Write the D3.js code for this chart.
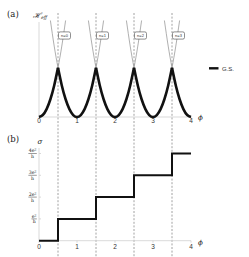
<!DOCTYPE html>
<html><head><meta charset="utf-8">
<script src="https://cdn.jsdelivr.net/npm/d3@7"></script>
<style>html,body{margin:0;padding:0;background:#fff;}svg{display:block;}</style>
</head><body>
<svg id="c" width="249" height="257"></svg>
<script>
// ---- data ----
const xTicks = [0, 1, 2, 3, 4];
const bandMinima = [0, 1, 2, 3, 4];           // parabola minima (n)
const bandLabels = ["n=0", "n=1", "n=2", "n=3"];
const degeneracyPhi = [0.5, 1.5, 2.5, 3.5];   // crossings / dashed lines
const dPhi   = [0, 0.1, 0.2, 0.3, 0.4, 0.5, 0.6, 0.7];        // offset from minimum
const energy = [0, 0.01, 0.04, 0.09, 0.16, 0.25, 0.36, 0.49]; // read energy at offset
const stepPhi   = [0, 0.5, 1.5, 2.5, 3.5, 4];
const stepSigma = [0, 1, 2, 3, 4];
const sigmaTickValues = [1, 2, 3, 4];
const sigmaTickNum = ["e²", "2e²", "3e²", "4e²"];
const sigmaTickDen = "h";

// ---- layout ----
const svg = d3.select("#c");
const x = d3.scaleLinear().domain([0, 4]).range([39, 191]);
const yTop = d3.scaleLinear().domain([0, 0.5]).range([117, 18.5]);
const yBot = d3.scaleLinear().domain([0, 4]).range([240.7, 153.5]);
const axisCol = "#cfcfcf", textCol = "#333";

// dashed lines
svg.append("g").selectAll("line").data(degeneracyPhi).join("line")
  .attr("x1", d => x(d)).attr("x2", d => x(d)).attr("y1", 13).attr("y2", 257)
  .attr("stroke", "#8a8a8a").attr("stroke-width", 0.8).attr("stroke-dasharray", "2,1.6");

// ---- panel (a) ----
function branchPoints(n, maxOff) {
  const pts = [];
  const offs = [];
  dPhi.forEach((d, i) => { if (d <= maxOff + 1e-9) offs.push([d, energy[i]]); });
  offs.slice().reverse().forEach(([d, e]) => { if (d > 0) pts.push([n - d, e]); });
  offs.forEach(([d, e]) => pts.push([n + d, e]));
  return pts.filter(p => p[0] >= -1e-9 && p[0] <= 4 + 1e-9);
}
const line = d3.line().x(d => x(d[0])).y(d => yTop(d[1])).curve(d3.curveNatural);

// axes
svg.append("line").attr("x1", x(0)).attr("x2", x(0)).attr("y1", 22).attr("y2", yTop(0))
  .attr("stroke", axisCol).attr("stroke-width", 0.8);
svg.append("line").attr("x1", x(0)).attr("x2", x(4)).attr("y1", yTop(0)).attr("y2", yTop(0))
  .attr("stroke", axisCol).attr("stroke-width", 0.8);
svg.append("g").selectAll("line").data(xTicks).join("line")
  .attr("x1", d => x(d)).attr("x2", d => x(d)).attr("y1", yTop(0)).attr("y2", yTop(0) + 2)
  .attr("stroke", axisCol).attr("stroke-width", 0.8);
svg.append("g").selectAll("text").data(xTicks).join("text")
  .attr("x", d => x(d)).attr("y", 123).attr("text-anchor", "middle")
  .attr("font-family", "Liberation Sans, Arial, sans-serif").attr("font-size", 6.5)
  .attr("fill", textCol).text(d => d);

// thin gray parabolas
bandMinima.forEach(n => {
  svg.append("path").attr("d", line(branchPoints(n, 0.7)))
    .attr("fill", "none").attr("stroke", "#8c8c8c").attr("stroke-width", 0.7);
});
// ground state
bandMinima.forEach(n => {
  svg.append("path").attr("d", line(branchPoints(n, 0.5)))
    .attr("fill", "none").attr("stroke", "#111").attr("stroke-width", 2.6)
    .attr("stroke-linecap", "butt");
});

// n labels
const lab = svg.append("g").selectAll("g").data(bandLabels).join("g")
  .attr("transform", (d, i) => `translate(${x(degeneracyPhi[i]) + 6.5},${35.5})`);
lab.append("rect").attr("x", -6).attr("y", -3.6).attr("width", 12).attr("height", 7.2)
  .attr("rx", 1.6).attr("fill", "#fff").attr("stroke", "#444").attr("stroke-width", 0.6);
lab.append("text").attr("text-anchor", "middle").attr("y", 1.5)
  .attr("font-family", "Liberation Sans, Arial, sans-serif").attr("font-size", 4)
  .attr("fill", "#333").text(d => d);

// legend
svg.append("line").attr("x1", 209).attr("x2", 218.5).attr("y1", 68.3).attr("y2", 68.3)
  .attr("stroke", "#111").attr("stroke-width", 2.4);
svg.append("text").attr("x", 222).attr("y", 70.5)
  .attr("font-family", "Liberation Sans, Arial, sans-serif").attr("font-size", 6)
  .attr("fill", textCol).text("G.S.");

// titles
svg.append("text").attr("x", 7).attr("y", 17).attr("font-family", "DejaVu Serif, serif")
  .attr("font-size", 8.5).attr("fill", "#222").text("(a)");
const hl = svg.append("text").attr("x", 33).attr("y", 17.5)
  .attr("font-family", "DejaVu Serif, serif").attr("font-style", "italic")
  .attr("font-size", 7.5).attr("fill", "#222");
hl.append("tspan").text("ℋ");
hl.append("tspan").attr("font-size", 4.5).attr("dy", 1.5).text("eff");
svg.append("text").attr("x", 198).attr("y", 119.5)
  .attr("font-family", "DejaVu Serif, serif").attr("font-style", "italic")
  .attr("font-size", 7).attr("fill", "#222").text("ϕ");

// ---- panel (b) ----
svg.append("line").attr("x1", x(0)).attr("x2", x(0)).attr("y1", 148).attr("y2", yBot(0))
  .attr("stroke", axisCol).attr("stroke-width", 0.8);
svg.append("line").attr("x1", x(0)).attr("x2", x(4)).attr("y1", yBot(0)).attr("y2", yBot(0))
  .attr("stroke", axisCol).attr("stroke-width", 0.8);
svg.append("g").selectAll("line").data(xTicks).join("line")
  .attr("x1", d => x(d)).attr("x2", d => x(d)).attr("y1", yBot(0)).attr("y2", yBot(0) + 2)
  .attr("stroke", axisCol).attr("stroke-width", 0.8);
svg.append("g").selectAll("text").data(xTicks).join("text")
  .attr("x", d => x(d)).attr("y", 249).attr("text-anchor", "middle")
  .attr("font-family", "Liberation Sans, Arial, sans-serif").attr("font-size", 6.5)
  .attr("fill", textCol).text(d => d);
svg.append("g").selectAll("line").data(sigmaTickValues).join("line")
  .attr("x1", x(0)).attr("x2", x(0) + 2).attr("y1", d => yBot(d)).attr("y2", d => yBot(d))
  .attr("stroke", axisCol).attr("stroke-width", 0.8);

// fraction tick labels
const fr = svg.append("g").selectAll("g").data(sigmaTickValues).join("g")
  .attr("transform", d => `translate(36.5,${yBot(d)})`);
fr.each(function (d, i) {
  const g = d3.select(this);
  const t = g.append("text").attr("y", -1.3).attr("text-anchor", "end")
    .attr("font-family", "DejaVu Serif, serif").attr("font-size", 4.8).attr("fill", "#222")
    .text(sigmaTickNum[i]);
  const w = t.node().getComputedTextLength();
  g.append("line").attr("x1", -w - 0.3).attr("x2", 0.3).attr("y1", 0).attr("y2", 0)
    .attr("stroke", "#222").attr("stroke-width", 0.45);
  g.append("text").attr("x", -w / 2).attr("y", 4.6).attr("text-anchor", "middle")
    .attr("font-family", "DejaVu Serif, serif").attr("font-size", 4.6).attr("fill", "#222")
    .text(sigmaTickDen);
});

// step line
const stepData = stepSigma.map((s, i) => [stepPhi[i], s]);
stepData.push([stepPhi[stepPhi.length - 1], stepSigma[stepSigma.length - 1]]);
svg.append("path")
  .attr("d", d3.line().x(d => x(d[0])).y(d => yBot(d[1])).curve(d3.curveStepAfter)(stepData))
  .attr("fill", "none").attr("stroke", "#111").attr("stroke-width", 2);

svg.append("text").attr("x", 7).attr("y", 142).attr("font-family", "DejaVu Serif, serif")
  .attr("font-size", 8.5).attr("fill", "#222").text("(b)");
svg.append("text").attr("x", 37.5).attr("y", 144)
  .attr("font-family", "DejaVu Serif, serif").attr("font-style", "italic")
  .attr("font-size", 7).attr("fill", "#222").text("σ");
svg.append("text").attr("x", 198).attr("y", 245)
  .attr("font-family", "DejaVu Serif, serif").attr("font-style", "italic")
  .attr("font-size", 7).attr("fill", "#222").text("ϕ");
</script>
</body></html>
